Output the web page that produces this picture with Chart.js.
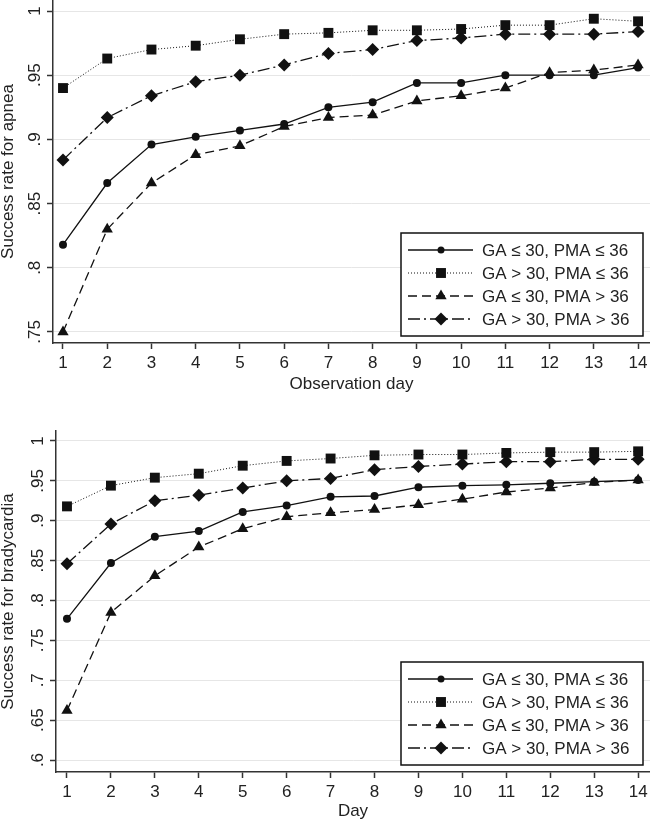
<!DOCTYPE html>
<html>
<head>
<meta charset="utf-8">
<script src="https://cdn.jsdelivr.net/npm/chart.js@4.4.1/dist/chart.umd.min.js"></script>
<style>
html, body { margin: 0; padding: 0; background: #fff; }
#wrap { position: relative; width: 650px; height: 822px; }
.panel { position: absolute; left: 0; width: 650px; }
</style>
</head>
<body>
<div id="wrap">
  <div class="panel" style="top:0;height:400px"><canvas id="apneaChart"></canvas></div>
  <div class="panel" style="top:400px;height:422px"><canvas id="bradyChart"></canvas></div>
</div>
<script>
const days = [1, 2, 3, 4, 5, 6, 7, 8, 9, 10, 11, 12, 13, 14];
const groupLabels = ['GA ≤ 30, PMA ≤ 36', 'GA > 30, PMA ≤ 36', 'GA ≤ 30, PMA > 36', 'GA > 30, PMA > 36'];

// apnea success rates
const apneaLowLow   = [0.818, 0.866, 0.896, 0.902, 0.907, 0.912, 0.925, 0.929, 0.944, 0.944, 0.950, 0.950, 0.950, 0.956];
const apneaHighLow  = [0.940, 0.963, 0.970, 0.973, 0.978, 0.982, 0.983, 0.985, 0.985, 0.986, 0.989, 0.989, 0.994, 0.992];
const apneaLowHigh  = [0.750, 0.830, 0.866, 0.888, 0.895, 0.910, 0.917, 0.919, 0.930, 0.934, 0.940, 0.952, 0.954, 0.958];
const apneaHighHigh = [0.884, 0.917, 0.934, 0.945, 0.950, 0.958, 0.967, 0.970, 0.977, 0.979, 0.982, 0.982, 0.982, 0.984];
const apneaTicks = [0.75, 0.8, 0.85, 0.9, 0.95, 1];

// bradycardia success rates
const bradyLowLow   = [0.777, 0.847, 0.880, 0.887, 0.911, 0.919, 0.930, 0.931, 0.942, 0.944, 0.945, 0.947, 0.949, 0.951];
const bradyHighLow  = [0.918, 0.944, 0.954, 0.959, 0.969, 0.975, 0.978, 0.982, 0.983, 0.983, 0.985, 0.986, 0.986, 0.987];
const bradyLowHigh  = [0.662, 0.785, 0.831, 0.867, 0.890, 0.905, 0.910, 0.914, 0.920, 0.927, 0.936, 0.941, 0.948, 0.951];
const bradyHighHigh = [0.846, 0.896, 0.925, 0.932, 0.941, 0.950, 0.953, 0.964, 0.968, 0.971, 0.974, 0.974, 0.977, 0.977];
const bradyTicks = [0.6, 0.65, 0.7, 0.75, 0.8, 0.85, 0.9, 0.95, 1];

const FONT = "'Liberation Sans', Arial, sans-serif";
const INK = '#111';

const seriesLook = [
  { dash: [], pointStyle: 'circle', pointRadius: 4, width: 1.3 },
  { dash: [1, 2], pointStyle: 'rect', pointRadius: 7, width: 1 },
  { dash: [9, 5], pointStyle: 'triangle', pointRadius: 6.5, width: 1.3 },
  { dash: [12, 4, 2, 4], pointStyle: 'rectRot', pointRadius: 6.5, width: 1.3 },
];

function buildDatasets(lists) {
  return lists.map((vals, i) => ({
    label: groupLabels[i],
    data: vals.map((v, j) => ({ x: days[j], y: v })),
    borderColor: INK,
    borderWidth: seriesLook[i].width,
    borderDash: seriesLook[i].dash,
    pointStyle: seriesLook[i].pointStyle,
    pointRadius: seriesLook[i].pointRadius,
    pointBackgroundColor: INK,
    pointBorderWidth: 0,
    fill: false,
    tension: 0,
  }));
}

const fmtTick = v => (Math.abs(v - 1) < 1e-9 ? '1' : v.toFixed(2).replace(/0$/, '').replace(/^0/, ''));

// no extra room for overhanging tick labels, the plot box is set by hand
const noPad = axis => {
  axis.paddingLeft = 0;
  axis.paddingRight = 0;
  axis.paddingTop = 0;
  axis.paddingBottom = 0;
};

// legend drawn in a box at the lower right of the plot
const boxLegend = {
  id: 'boxLegend',
  afterDraw(chart) {
    const { ctx, chartArea } = chart;
    const w = 242, h = 103;
    const left = chartArea.right - 7 - w;
    const top = chartArea.bottom - 7 - h;
    ctx.save();
    ctx.fillStyle = '#fff';
    ctx.fillRect(left, top, w, h);
    ctx.strokeStyle = INK;
    ctx.lineWidth = 1.5;
    ctx.strokeRect(left, top, w, h);
    chart.data.datasets.forEach((ds, i) => {
      const y = top + 17 + i * 23;
      ctx.strokeStyle = INK;
      ctx.lineWidth = ds.borderWidth;
      ctx.setLineDash(ds.borderDash);
      ctx.beginPath();
      ctx.moveTo(left + 7, y);
      ctx.lineTo(left + 72, y);
      ctx.stroke();
      ctx.setLineDash([]);
      ctx.fillStyle = INK;
      Chart.helpers.drawPoint(ctx, { pointStyle: ds.pointStyle, radius: i === 0 ? 3.5 : ds.pointRadius, borderWidth: 0, rotation: 0 }, left + 40, y);
      ctx.fillStyle = '#222';
      ctx.font = '17px ' + FONT;
      ctx.textAlign = 'left';
      ctx.textBaseline = 'middle';
      ctx.fillText(ds.label, left + 81, y + 1);
    });
    ctx.restore();
  },
};

function makeChart(id, lists, cfg) {
  const ctx = document.getElementById(id).getContext('2d');
  return new Chart(ctx, {
    type: 'line',
    data: { datasets: buildDatasets(lists) },
    plugins: [boxLegend],
    options: {
      responsive: true,
      maintainAspectRatio: false,
      animation: false,
      layout: { autoPadding: false, padding: { top: cfg.padTop, right: 0, bottom: 0, left: 0 } },
      plugins: { legend: { display: false }, tooltip: { enabled: false } },
      scales: {
        x: {
          type: 'linear',
          min: cfg.xMin,
          max: cfg.xMax,
          afterBuildTicks: axis => { axis.ticks = days.map(d => ({ value: d })); },
          afterFit: axis => { axis.height = cfg.xHeight; noPad(axis); },
          grid: { drawOnChartArea: false, tickLength: 6, tickColor: '#333', tickWidth: 1.5 },
          border: { color: '#333', width: 1.5 },
          ticks: { color: '#222', font: { size: 17, family: FONT }, padding: cfg.xPad, maxRotation: 0, callback: v => String(v) },
          title: { display: true, text: cfg.xTitle, color: '#222', font: { size: 17, family: FONT, lineHeight: 1.2 }, padding: { top: 0, bottom: cfg.xTitlePad } },
        },
        y: {
          min: cfg.yMin,
          max: cfg.yMax,
          afterBuildTicks: axis => { axis.ticks = cfg.yTicks.map(v => ({ value: v })); },
          afterFit: axis => { axis.width = cfg.yWidth; noPad(axis); },
          grid: { color: '#e6e6e6', lineWidth: 1, tickLength: 6, tickColor: '#333', tickWidth: 1.5 },
          border: { color: '#333', width: 1.5 },
          ticks: { color: '#222', font: { size: 17, family: FONT }, padding: 0, minRotation: 90, maxRotation: 90, crossAlign: 'center', callback: fmtTick },
          title: { display: true, text: cfg.yTitle, color: '#222', font: { size: 17, family: FONT, lineHeight: 1 }, padding: { top: 0, bottom: 0 } },
        },
      },
    },
  });
}

makeChart('apneaChart', [apneaLowLow, apneaHighLow, apneaLowHigh, apneaHighHigh], {
  padTop: 0, xMin: 0.774, xMax: 14.27, yMin: 0.7414, yMax: 1.0086, yTicks: apneaTicks,
  xHeight: 57, yWidth: 53, xPad: 4, xTitlePad: 5,
  xTitle: 'Observation day', yTitle: 'Success rate for apnea',
});

makeChart('bradyChart', [bradyLowLow, bradyHighLow, bradyLowHigh, bradyHighHigh], {
  padTop: 31, xMin: 0.75, xMax: 14.27, yMin: 0.585, yMax: 1.0125, yTicks: bradyTicks,
  xHeight: 50, yWidth: 56, xPad: 4, xTitlePad: 0,
  xTitle: 'Day', yTitle: 'Success rate for bradycardia',
});
</script>
</body>
</html>
